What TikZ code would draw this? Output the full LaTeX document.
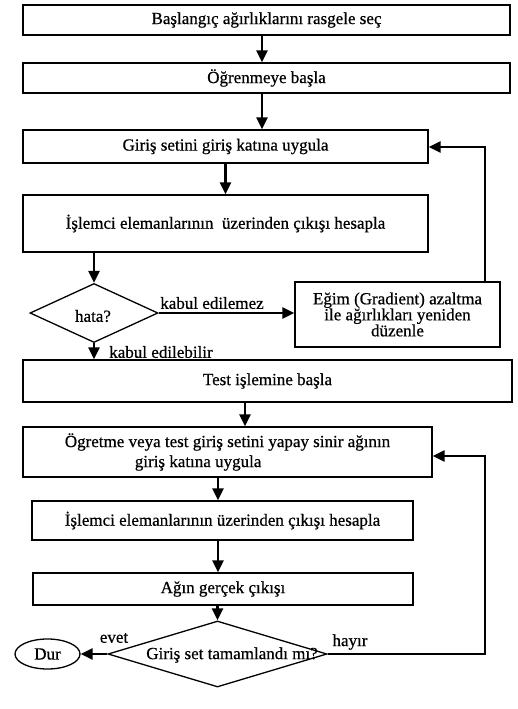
\documentclass[tikz,border=0pt]{standalone}
\usepackage{fontspec}
\setmainfont{Liberation Serif}[FakeBold=0.6]
\usetikzlibrary{shapes.geometric,arrows.meta}
\begin{document}
\begin{tikzpicture}[x=1pt,y=-1pt,
  txt/.style={font=\fontsize{17}{19}\selectfont},
  box/.style={draw, line width=1.3pt, inner sep=0pt, txt},
  flow/.style={line width=2.6pt, -{Triangle[length=12pt,width=11pt]}},
  lbl/.style={txt, inner sep=0pt}]
\fill[white] (0,0) rectangle (518,709);
\useasboundingbox (0,0) rectangle (518,709);

% training phase
\node[box, minimum width=487pt, minimum height=30pt] (b1) at (266.5,20) {Başlangıç ağırlıklarını rasgele seç};
\node[box, minimum width=487pt, minimum height=30pt] (b2) at (266.5,78) {Öğrenmeye başla};
\node[box, minimum width=405pt, minimum height=33pt] (b3) at (225.5,146.5) {Giriş setini giriş katına uygula};
\node[box, minimum width=405pt, minimum height=57pt] (b4) at (225.5,223.5) {İşlemci elemanlarının\ \ üzerinden çıkışı hesapla};
\node[draw, line width=1.3pt, diamond, minimum width=128pt, minimum height=59pt, inner sep=0pt] (d1) at (94,313) {};
\node[lbl] (t1) at (93,316) {hata?};
\node[box, minimum width=205pt, minimum height=65pt, align=center, font=\fontsize{17}{16}\selectfont] (b5) at (397.5,314.5) {Eğim (Gradient) azaltma\\ ile ağırlıkları yeniden\\ düzenle};

% test phase
\node[box, minimum width=489pt, minimum height=42pt] (b6) at (267.5,381) {Test işlemine başla};
\node[box, minimum width=409pt, minimum height=50pt, align=left, font=\fontsize{17}{20}\selectfont] (b7) at (227.5,452) {Ögretme veya test giriş setini yapay sinir ağının\\ \hspace{70pt}giriş katına uygula};
\node[box, minimum width=381pt, minimum height=39pt] (b8) at (222.5,520.5) {İşlemci elemanlarının üzerinden çıkışı hesapla};
\node[box, minimum width=380pt, minimum height=32pt] (b9) at (223,589) {Ağın gerçek çıkışı};
\node[draw, line width=1.3pt, diamond, minimum width=219pt, minimum height=66pt, inner sep=0pt] (d2) at (217.5,654) {};
\node[lbl] (t2) at (232,655) {Giriş set tamamlandı mı?};
\node[draw, line width=1.3pt, ellipse, minimum width=65pt, minimum height=30pt, inner sep=0pt, txt] (dur) at (47.5,654) {Dur};

% bend points of the loops
\coordinate (r1) at (485,147);
\coordinate (r2) at (485,456);
\coordinate (x1) at (262,0);
\coordinate (x2) at (245,0);
\coordinate (x3) at (218,0);

% connectors
\draw[flow] (b1.south -| x1) -- (b2.north -| x1);
\draw[flow] (b2.south -| x1) -- (b3.north -| x1);
\draw[flow] (b3.south) -- (b4.north);
\draw[flow] (b4.south -| d1.north) -- (d1.north);
\draw[flow] (d1.east) -- (d1.east -| b5.west);
\draw[flow] (b5.north -| r1) -- (r1) -- (r1 -| b3.east);
\draw[flow] (d1.south) -- (d1.south |- b6.north);
\draw[flow] (b6.south -| x2) -- (b7.north -| x2);
\draw[flow] (b7.south -| x3) -- (b8.north -| x3);
\draw[flow] (b8.south -| x3) -- (b9.north -| x3);
\draw[flow] (b9.south -| d2.north) -- (d2.north);
\draw[flow] (d2.west) -- (dur.east);
\draw[flow] (d2.east) -- (d2.east -| r2) -- (r2) -- (r2 -| b7.east);

% branch labels
\node[lbl] (l1) at (212,303) {kabul edilemez};
\node[lbl] (l2) at (161,352) {kabul edilebilir};
\node[lbl] (l3) at (114,638) {evet};
\node[lbl] (l4) at (350,642) {hayır};
\end{tikzpicture}
\end{document}
